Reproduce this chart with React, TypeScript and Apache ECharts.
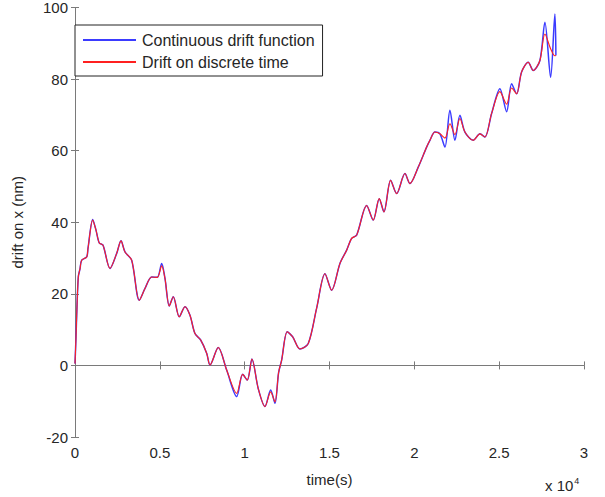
import React, { useEffect, useRef } from "react";
import * as echarts from "echarts";

// time in seconds
const times = [
  0, 60, 100, 194, 295, 395, 689, 766, 1043, 1237, 1432, 1650, 2062, 2457, 2711, 2946,
  3341, 3789, 4125, 4520, 4850, 5109, 5303, 5557, 5793, 6146, 6482, 6777, 7071, 7407,
  7761, 7955, 8444, 8939, 9529, 9882, 10153, 10430, 10801, 11196, 11532, 11785, 12000,
  12180, 12510, 12828, 13259, 13748, 14243, 14732, 15127, 15616, 16011, 16305, 16600,
  17189, 17578, 17932, 18209, 18603, 18957, 19446, 19741, 20230, 20725, 20919, 21214,
  21508, 21803, 22098, 22393, 22687, 22982, 23471, 23866, 24160, 24555, 25044, 25439,
  25733, 26028, 26323, 26712, 27007, 27401, 27696, 28032, 28285, 28344,
];

const continuousDrift = [
  0.5, 8, 14, 24.7, 27, 29.4, 30.3, 32.7, 40.8, 37.8, 34.2, 33.6, 27.1, 31.3, 34.8, 31.7,
  29.4, 18.2, 21.5, 24.7, 24.6, 28.5, 24.3, 16.6, 19.2, 13.6, 16.4, 14.0, 8.9, 7.1,
  3.4, 0.1, 5.0, -1.3, -8.7, -2.5, -4.1, 1.8, -6.5, -11.5, -6.9, -10.6, -2,
  1.5, 9.4, 8.0, 4.6, 6.1, 16, 25.6, 21.0, 28.5, 32.2, 35.5, 36.4,
  44.7, 40.6, 46.6, 42.9, 51.7, 48.0, 53.6, 50.8, 55.4, 61.0, 62.9, 65.2,
  64.7, 61.0, 71.3, 62.9, 69.9, 65.2, 62.9, 64.7, 63.8, 70.4, 77.3, 70.9,
  78.7, 75.9, 82.0, 84.7, 82.4, 85.2, 95.9, 80.5, 98.2, 86.6,
];

const discreteDrift = [
  0.5, 8, 14, 24.7, 27, 29.4, 30.3, 32.7, 40.6, 37.8, 34.2, 33.6, 27.1, 31.3, 34.8, 31.7,
  29.4, 18.2, 21.5, 24.7, 24.6, 27.8, 24.3, 16.6, 19.2, 13.6, 16.4, 14.0, 8.9, 7.1,
  3.4, 0.1, 5.0, -1.3, -7.8, -2.5, -4.1, 1.8, -6.5, -11.5, -7.4, -10.2, -2,
  1.5, 9.4, 8.0, 4.6, 6.1, 16, 25.6, 21.0, 28.5, 32.2, 35.5, 36.4,
  44.7, 40.6, 46.6, 42.9, 51.7, 48.0, 53.6, 50.8, 55.4, 61.0, 62.9, 65.2,
  64.7, 63.5, 67.5, 64.5, 69.0, 65.2, 62.9, 64.7, 63.8, 70.4, 76.5, 73.0,
  77.5, 75.9, 82.0, 84.7, 82.4, 85.2, 92.6, 88.5, 86.5, 86.6,
];

const xTicks = [0, 0.5, 1, 1.5, 2, 2.5, 3];
const yTicks = [-20, 0, 20, 40, 60, 80, 100];

const FONT = "Liberation Sans, Arial, sans-serif";
const AXIS = "#7a7a7a";
const TXT = "#262626";

export default function App() {
  const ref = useRef<HTMLDivElement>(null);
  useEffect(() => {
    if (!ref.current) return;
    const chart = echarts.init(ref.current, undefined, { renderer: "svg" });
    const blue = times.map((t, i) => [t, continuousDrift[i]]);
    const red = times.map((t, i) => [t, discreteDrift[i]]);
    const xMax = xTicks[xTicks.length - 1] * 10000;
    const yMin = yTicks[0];
    const yMax = yTicks[yTicks.length - 1];
    const axisCommon = {
      axisLine: { show: true, lineStyle: { color: AXIS, width: 1 } },
      axisTick: { show: true, inside: true, length: 4, lineStyle: { color: AXIS } },
      splitLine: { show: false },
    };
    chart.setOption({
      animation: false,
      backgroundColor: "#ffffff",
      textStyle: { fontFamily: FONT },
      grid: { left: 75, right: 21, top: 7, bottom: 60, containLabel: false },
      legend: {
        show: true,
        orient: "vertical",
        left: 75,
        top: 25,
        itemWidth: 53,
        itemHeight: 2,
        itemGap: 6,
        padding: [7, 8, 6, 8],
        borderColor: "#222",
        borderWidth: 1,
        borderRadius: 0,
        backgroundColor: "#ffffff",
        icon: "rect",
        textStyle: { fontSize: 16, color: TXT, fontFamily: FONT, lineHeight: 16, padding: [0, 0, 0, 1] },
        data: ["Continuous drift function", "Drift on discrete time"],
      },
      xAxis: [
        {
          type: "value",
          min: 0,
          max: xMax,
          interval: 5000,
          position: "bottom",
          ...axisCommon,
          axisLabel: {
            color: TXT,
            fontSize: 15,
            margin: 8,
            fontFamily: FONT,
            formatter: (v: number) => String(v / 10000),
          },
          name: "time(s)",
          nameLocation: "middle",
          nameGap: 35,
          nameTextStyle: { color: TXT, fontSize: 15, fontFamily: FONT },
        },
        {
          type: "value",
          min: 0,
          max: xMax,
          interval: 5000,
          position: "top",
          ...axisCommon,
          axisLabel: { show: false },
        },
      ],
      yAxis: [
        {
          type: "value",
          min: yMin,
          max: yMax,
          interval: 20,
          position: "left",
          ...axisCommon,
          axisLabel: { color: TXT, fontSize: 15, margin: 7, fontFamily: FONT },
          name: "drift on x (nm)",
          nameLocation: "middle",
          nameGap: 50,
          nameTextStyle: { color: TXT, fontSize: 15, fontFamily: FONT },
        },
        {
          type: "value",
          min: yMin,
          max: yMax,
          interval: 20,
          position: "right",
          ...axisCommon,
          axisLabel: { show: false },
        },
      ],
      series: [
        {
          name: "Continuous drift function",
          type: "line",
          data: blue,
          showSymbol: false,
          symbol: "none",
          smooth: 0.3,
          color: "#3b3bff",
          lineStyle: { color: "#3b3bff", width: 1.5 },
          z: 2,
        },
        {
          name: "Drift on discrete time",
          type: "line",
          data: red,
          showSymbol: false,
          symbol: "none",
          smooth: 0.3,
          color: "#ff2020",
          lineStyle: { color: "#ff2020", width: 1.1 },
          z: 3,
        },
      ],
      graphic: [
        {
          type: "text",
          left: 545,
          top: 476,
          style: {
            text: "x 10{s|4}",
            font: `15px ${FONT}`,
            fill: TXT,
            rich: { s: { fontSize: 9, verticalAlign: "top", padding: [0, 0, 10, 1], fontFamily: FONT } },
          },
        },
      ],
    });
    return () => chart.dispose();
  }, []);
  return (
    <div
      ref={ref}
      style={{ position: "fixed", left: 0, top: 0, width: 605, height: 497, background: "#fff" }}
    />
  );
}
